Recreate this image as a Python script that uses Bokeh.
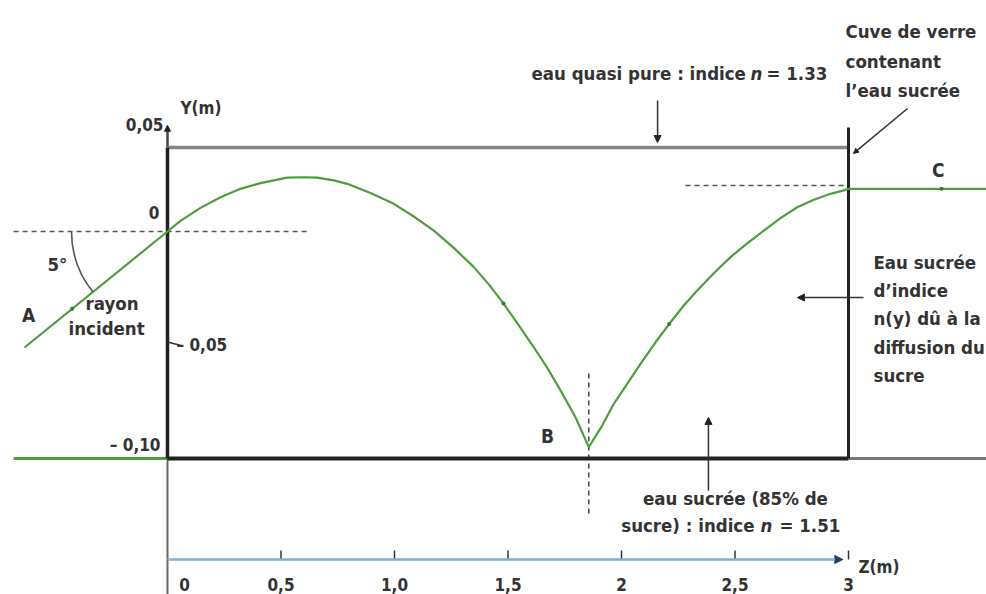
import numpy as np
from bokeh.plotting import figure
from bokeh.models import Arrow, NormalHead
from bokeh.core.properties import value
from bokeh.embed import file_html
from bokeh.resources import INLINE

# ---------------- data ----------------
RAY_Z = [-0.63, 0.0, 0.0573, 0.1454, 0.2335, 0.3216, 0.4097, 0.5273, 0.6004, 0.6595,
         0.7326, 0.7916, 0.8943, 0.9969, 1.0850, 1.1731, 1.2612, 1.3493, 1.4154,
         1.4815, 1.5476, 1.6137, 1.6727, 1.7313, 1.7974, 1.8559,
         1.9150, 1.9661, 2.0251, 2.0837, 2.1498, 2.2159, 2.2744, 2.3335, 2.4066,
         2.4802, 2.5537, 2.6269, 2.7004, 2.7740, 2.8471, 2.9207, 2.9793, 3.0, 3.65]
RAY_Y = [-0.0511, 0.0, 0.0047, 0.0104, 0.0151, 0.0188, 0.0213, 0.0237, 0.0239, 0.0237,
         0.0225, 0.0210, 0.0170, 0.0122, 0.0066, 0.0004, -0.0072, -0.0157, -0.0233,
         -0.0319, -0.0414, -0.0510, -0.0600, -0.0700, -0.0818, -0.0950,
         -0.0855, -0.0759, -0.0671, -0.0583, -0.0488, -0.0400, -0.0326, -0.0260, -0.0184,
         -0.0113, -0.0052, 0.0004, 0.0059, 0.0107, 0.0140, 0.0166, 0.0181, 0.0188, 0.0188]
MARK_Z = [-0.42, 1.48, 2.21, 3.41]          # small direction marks on the ray
TANK_Z = [0.0, 3.0]
TANK_BOTTOM = -0.10
TANK_TOP = 0.037
WALL_TOP = 0.0458
Z_TICKS = [0.0, 0.5, 1.0, 1.5, 2.0, 2.5, 3.0]
Z_LABELS = ["0", "0,5", "1,0", "1,5", "2", "2,5", "3"]
Y_TICKS = [0.05, 0.0, -0.05, -0.10]
Y_LABELS = ["0,05", "0", "– 0,05", "– 0,10"]
Z_AXIS_Y = -0.1445
B_Z = 1.8559
C_Y = 0.0203

# ---------------- figure ----------------
X0, X1 = -0.73568, 3.60793
Y0, Y1 = -0.159912, 0.101762
W, H = 986, 594
SX = W / (X1 - X0)
SY = H / (Y1 - Y0)

FONT = value("DejaVu Sans Condensed")
TXT = "#333333"
DARK = "#222222"
GREEN = "#4f9d3f"

p = figure(width=W, height=H, x_range=(X0, X1), y_range=(Y0, Y1),
           x_axis_type=None, y_axis_type=None, toolbar_location=None,
           output_backend="svg", min_border=0, outline_line_color=None)
p.grid.visible = False

# dashed reference lines
p.line([-0.678, 0.630], [0, 0], line_color="#555555", line_width=1.5, line_dash="5 4")
p.line([2.282, TANK_Z[1]], [C_Y, C_Y], line_color="#555555", line_width=1.5, line_dash="5 4")
p.line([B_Z, B_Z], [-0.0626, -0.1242], line_color="#444444", line_width=1.5, line_dash="5 4")

# y axis (outside tank parts)
p.line([0, 0], [TANK_TOP, WALL_TOP], line_color="#444444", line_width=2.5)
p.line([0, 0], [TANK_BOTTOM, Y0 - 0.01], line_color="#666666", line_width=2)
p.add_layout(Arrow(end=NormalHead(size=6, fill_color=DARK, line_color=DARK),
                   x_start=0, y_start=WALL_TOP - 0.002, x_end=0, y_end=WALL_TOP + 0.001,
                   line_color="#444444", line_width=2))

# bottom line outside the tank
p.line([-0.678, 0], [TANK_BOTTOM, TANK_BOTTOM], line_color=GREEN, line_width=3)
p.line([TANK_Z[1], 3.65], [TANK_BOTTOM, TANK_BOTTOM], line_color="#777777", line_width=3)

# tank
p.line(TANK_Z, [TANK_TOP, TANK_TOP], line_color="#858585", line_width=3.5)
p.line(TANK_Z, [TANK_BOTTOM, TANK_BOTTOM], line_color=DARK, line_width=4)
p.line([0, 0], [TANK_BOTTOM, TANK_TOP], line_color=DARK, line_width=3.5)
p.line([3, 3], [TANK_BOTTOM, WALL_TOP], line_color=DARK, line_width=3)

# light ray
p.line(RAY_Z, RAY_Y, line_color=GREEN, line_width=2.2, line_join="round")
p.scatter(MARK_Z, np.interp(MARK_Z, RAY_Z, RAY_Y), marker="circle", size=4,
          fill_color="#2f7f2a", line_color=None)

# 5° arc
angA = np.arctan2(RAY_Y[0] * SY, RAY_Z[0] * SX) + 2 * np.pi
p.arc(x=[0], y=[0], radius=96, radius_units="screen", start_angle=np.pi,
      end_angle=angA, direction="anticlock", line_color="#555555", line_width=1.6)

# Z axis
p.add_layout(Arrow(end=NormalHead(size=8, fill_color="#1f3f66", line_color="#1f3f66"),
                   x_start=0, y_start=Z_AXIS_Y, x_end=2.975, y_end=Z_AXIS_Y,
                   line_color="#7db1da", line_width=2.5))
p.ray(x=Z_TICKS[1:], y=[Z_AXIS_Y] * (len(Z_TICKS) - 1), length=9, length_units="screen",
      angle=np.pi / 2, line_color="#333333", line_width=1.5)
zl_x = [z + (17 / SX if z == 0 else 0) for z in Z_TICKS]
p.text(x=zl_x, y=[-0.1555] * len(Z_TICKS), text=Z_LABELS, text_font=FONT,
       text_font_size="17px", text_font_style="bold", text_color=TXT,
       text_align="center", text_baseline="middle")
p.text(x=[3.044], y=[-0.1476], text=["Z(m)"], text_font=FONT, text_font_size="17px",
       text_font_style="bold", text_color=TXT, text_align="left", text_baseline="middle")

# Y axis labels (placed as in the drawing)
yl_dx = [-4, -8, 9, -7]
yl_dy = [6.5, -19, 0, -13]
yl_al = ["right", "right", "left", "right"]
for t, lab, dx, dy, al in zip(Y_TICKS, Y_LABELS, yl_dx, yl_dy, yl_al):
    p.text(x=[dx / SX], y=[t - dy / SY], text=[lab], text_font=FONT, text_font_size="17px",
           text_font_style="bold", text_color=TXT, text_align=al, text_baseline="middle")
p.ray(x=[0], y=[-0.05 + 3 / SY], length=13, length_units="screen", angle=-0.25,
      line_color="#333333", line_width=1.5)
p.text(x=[0.057], y=[0.0542], text=["Y(m)"], text_font=FONT, text_font_size="17px",
       text_font_style="bold", text_color=TXT, text_align="left", text_baseline="middle")


def label(x, y, s, size="18.5px", align="left", style="bold"):
    p.text(x=[x], y=[y], text=[s], text_font=FONT, text_font_size=size,
           text_font_style=style, text_color=TXT, text_align=align, text_baseline="middle")


label(-0.485, -0.0145, "5°", align="center")
label(-0.612, -0.0366, "A", align="center", size="19px")
label(1.674, -0.0899, "B", align="center", size="19px")
label(3.396, 0.0273, "C", align="center", size="19px")
label(-0.361, -0.0317, "rayon")
label(-0.436, -0.0427, "incident")

# eau quasi pure
label(2.548, 0.0696, "eau quasi pure : indice", align="right")
label(2.568, 0.0696, "n", style="bold italic")
label(2.639, 0.0696, "= 1.33")
p.add_layout(Arrow(end=NormalHead(size=7, fill_color=DARK, line_color=DARK),
                   x_start=2.159, y_start=0.0577, x_end=2.159, y_end=0.0392,
                   line_color="#333333", line_width=1.5))

# cuve de verre
for yy, s in zip([0.0881, 0.0749, 0.0621], ["Cuve de verre", "contenant", "l’eau sucrée"]):
    label(2.987, yy, s)
p.add_layout(Arrow(end=NormalHead(size=5, fill_color=DARK, line_color=DARK),
                   x_start=3.26, y_start=0.0542, x_end=3.022, y_end=0.0344,
                   line_color="#333333", line_width=1.5))

# eau sucrée d'indice n(y)
for yy, s in zip([-0.0137, -0.0260, -0.0383, -0.0511, -0.0634],
                 ["Eau sucrée", "d’indice", "n(y) dû à la", "diffusion du", "sucre"]):
    label(3.110, yy, s)
p.add_layout(Arrow(end=NormalHead(size=7, fill_color=DARK, line_color=DARK),
                   x_start=3.066, y_start=-0.0291, x_end=2.775, y_end=-0.0291,
                   line_color="#333333", line_width=1.5))

# eau sucrée 85%
label(2.502, -0.1176, "eau sucrée (85% de", align="center")
label(2.586, -0.1295, "sucre) : indice", align="right")
label(2.612, -0.1295, "n", style="bold italic")
label(2.696, -0.1295, "= 1.51")
p.add_layout(Arrow(end=NormalHead(size=7, fill_color=DARK, line_color=DARK),
                   x_start=2.383, y_start=-0.1141, x_end=2.383, y_end=-0.0819,
                   line_color="#333333", line_width=1.5))

open("out.html", "w").write(file_html(p, INLINE))
